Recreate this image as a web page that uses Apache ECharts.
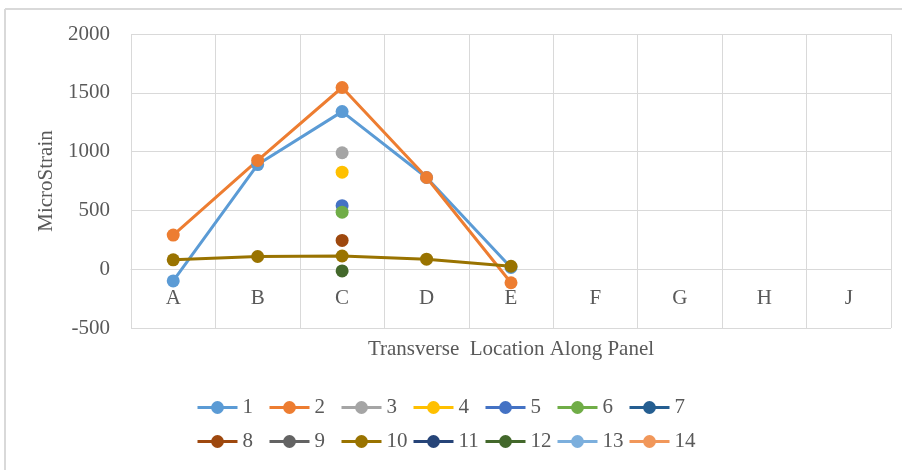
<!DOCTYPE html>
<html>
<head>
<meta charset="utf-8">
<script src="https://cdn.jsdelivr.net/npm/echarts@6/dist/echarts.min.js"></script>
<style>
  html, body { margin: 0; padding: 0; background: #fff; }
  #chart { width: 902px; height: 470px; }
</style>
</head>
<body>
<div id="chart"></div>
<script>
// Transverse locations along the panel
const categories = ['A', 'B', 'C', 'D', 'E', 'F', 'G', 'H', 'J'];

// Gauge readings (microstrain) per load step
const s1  = [-100, 890, 1340, 780, 15, null, null, null, null];
const s2  = [290, 925, 1545, 780, -115, null, null, null, null];
const s3  = [null, null, 990, null, null, null, null, null, null];
const s4  = [null, null, 825, null, null, null, null, null, null];
const s5  = [null, null, 540, null, null, null, null, null, null];
const s6  = [null, null, 485, null, null, null, null, null, null];
const s7  = [null, null, null, null, null, null, null, null, null];
const s8  = [null, null, 245, null, null, null, null, null, null];
const s9  = [null, null, null, null, null, null, null, null, null];
const s10 = [80, 108, 112, 85, 25, null, null, null, null];
const s11 = [null, null, null, null, null, null, null, null, null];
const s12 = [null, null, -15, null, null, null, null, null, null];
const s13 = [null, null, null, null, null, null, null, null, null];
const s14 = [null, null, null, null, null, null, null, null, null];

const seriesNames = ['1', '2', '3', '4', '5', '6', '7', '8', '9', '10', '11', '12', '13', '14'];
const seriesData = [s1, s2, s3, s4, s5, s6, s7, s8, s9, s10, s11, s12, s13, s14];
const colors = ['#5B9BD5', '#ED7D31', '#A5A5A5', '#FFC000', '#4472C4', '#70AD47', '#255E91',
                '#9E480E', '#636363', '#997300', '#264478', '#43682B', '#7CAFDD', '#F1975A'];

const yTicks = { min: -500, max: 2000, interval: 500 };

const FONT = '"Liberation Serif", "Times New Roman", serif';
const TEXT = '#595959';
const GRID = '#d9d9d9';

const chart = echarts.init(document.getElementById('chart'));

// legend: two rows of seven entries, each entry in a fixed-width slot
const LEGEND_LEFT = 191;
const LEGEND_SLOT = 72;
const LEGEND_ROWS = [392, 426];
const legends = seriesNames.map((name, i) => ({
  orient: 'horizontal',
  left: LEGEND_LEFT + (i % 7) * LEGEND_SLOT,
  top: LEGEND_ROWS[Math.floor(i / 7)],
  itemWidth: 40,
  itemHeight: 16,
  lineStyle: { width: 3 },
  data: [name],
  textStyle: { fontFamily: FONT, fontSize: 21, color: TEXT }
}));

chart.setOption({
  animation: false,
  color: colors,
  textStyle: { fontFamily: FONT },
  grid: { left: 131, right: 11, top: 34, bottom: 142, containLabel: false },
  legend: legends,
  xAxis: {
    type: 'category',
    data: categories,
    boundaryGap: true,
    name: 'Transverse  Location Along Panel',
    nameLocation: 'middle',
    nameGap: 11,
    nameTextStyle: { fontFamily: FONT, fontSize: 21, color: TEXT },
    axisLine: { show: true, lineStyle: { color: GRID, width: 1 } },
    axisTick: { show: false },
    axisLabel: { inside: true, fontFamily: FONT, fontSize: 21, color: TEXT, margin: 19, interval: 0 },
    splitLine: { show: true, interval: 0, lineStyle: { color: GRID, width: 1 } }
  },
  yAxis: {
    type: 'value',
    min: yTicks.min,
    max: yTicks.max,
    interval: yTicks.interval,
    name: 'MicroStrain',
    nameLocation: 'middle',
    nameGap: 67,
    nameTextStyle: { fontFamily: FONT, fontSize: 21, color: TEXT },
    axisLine: { show: false },
    axisTick: { show: false },
    axisLabel: { fontFamily: FONT, fontSize: 21, color: TEXT, margin: 21, formatter: v => String(v) },
    splitLine: { show: true, lineStyle: { color: GRID, width: 1 } }
  },
  graphic: [
    { type: 'line', silent: true, shape: { x1: 5, y1: 9, x2: 902, y2: 9 }, style: { stroke: GRID, lineWidth: 2 } },
    { type: 'line', silent: true, shape: { x1: 5, y1: 9, x2: 5, y2: 470 }, style: { stroke: GRID, lineWidth: 2 } }
  ],
  series: seriesNames.map((name, i) => ({
    name: name,
    type: 'line',
    data: seriesData[i],
    symbol: 'circle',
    symbolSize: 13,
    showAllSymbol: true,
    connectNulls: false,
    lineStyle: { width: 3, color: colors[i] },
    itemStyle: { color: colors[i] },
    emphasis: { disabled: true }
  }))
});
</script>
</body>
</html>
